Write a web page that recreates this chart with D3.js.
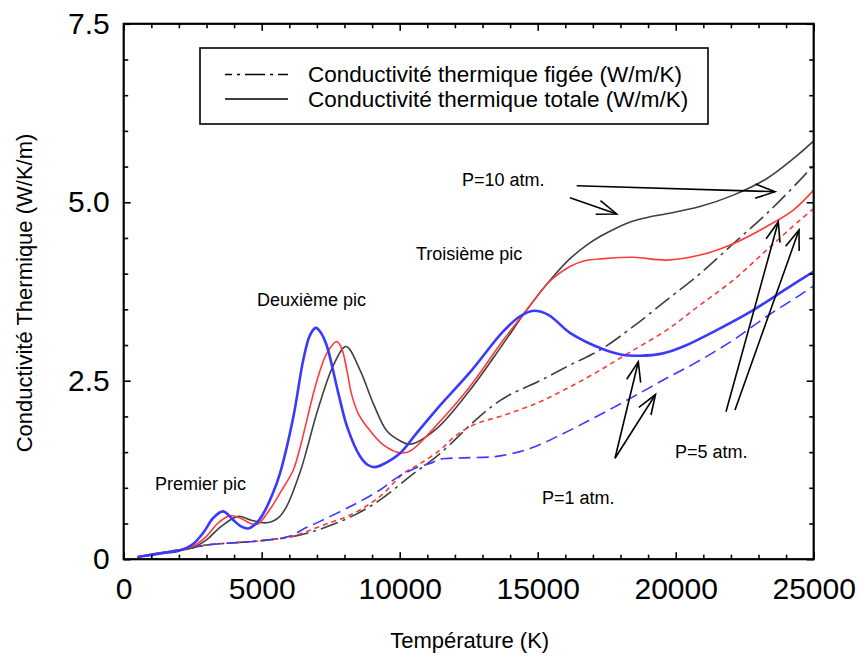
<!DOCTYPE html>
<html><head><meta charset="utf-8">
<script src="https://cdn.jsdelivr.net/npm/d3@7/dist/d3.min.js"></script>
<style>
body{margin:0;background:#fff;}
text{font-family:"Liberation Sans",Arial,Helvetica,sans-serif;}
</style></head>
<body><svg id="c" width="859" height="660"></svg>
<script>
// ---- Data (Temperature K, conductivity W/K/m) ----
const xTicks = [0, 5000, 10000, 15000, 20000, 25000];
const xTickLabels = ["0", "5000", "10000", "15000", "20000", "25000"];
const yTicks = [0, 2.5, 5.0, 7.5];
const yTickLabels = ["0", "2.5", "5.0", "7.5"];

// Total conductivity (solid)
const total1atm = [[500,0.03],[1000,0.06],[1500,0.09],[2000,0.12],[2500,0.21],[2900,0.38],[3250,0.58],[3600,0.67],[3970,0.55],[4250,0.46],[4520,0.43],[4820,0.51],[5060,0.64],[5400,0.92],[5660,1.20],[6150,2.00],[6500,2.78],[6750,3.14],[6960,3.24],[7150,3.17],[7350,3.00],[7780,2.32],[8100,1.85],[8550,1.45],[8850,1.32],[9100,1.29],[9400,1.33],[10000,1.48],[10600,1.76],[11340,2.10],[12550,2.62],[13750,3.19],[14350,3.40],[14850,3.48],[15400,3.42],[16170,3.17],[17376,2.94],[18100,2.86],[18700,2.85],[19500,2.88],[20275,2.98],[21485,3.21],[22811,3.49],[24020,3.79],[25000,4.03]];
const total5atm = [[500,0.03],[1000,0.06],[1500,0.09],[2000,0.12],[2500,0.18],[3000,0.32],[3400,0.50],[3850,0.61],[4200,0.58],[4600,0.50],[4850,0.49],[5300,0.70],[5700,0.95],[6145,1.25],[6400,1.58],[7000,2.50],[7355,2.88],[7720,3.05],[7900,2.95],[8100,2.62],[8250,2.32],[8500,2.04],[8804,1.86],[9407,1.60],[10010,1.49],[10400,1.52],[11340,1.88],[12547,2.42],[13753,3.07],[14600,3.49],[15400,3.88],[16170,4.10],[16700,4.18],[17376,4.21],[18464,4.23],[19671,4.19],[20880,4.26],[22086,4.42],[23295,4.66],[24260,4.89],[25000,5.17]];
const total10atm = [[500,0.03],[1000,0.06],[1500,0.09],[2000,0.12],[2500,0.16],[3000,0.27],[3500,0.45],[4150,0.60],[4600,0.55],[5180,0.51],[5600,0.58],[5905,0.74],[6400,1.23],[6630,1.53],[7000,2.05],[7600,2.72],[8055,2.98],[8562,2.65],[9044,2.18],[9529,1.80],[10010,1.66],[10373,1.61],[11340,1.83],[12547,2.37],[13753,3.02],[14600,3.49],[15565,3.96],[16200,4.22],[16774,4.40],[17257,4.52],[17800,4.63],[18400,4.73],[19000,4.79],[19671,4.84],[20880,4.94],[22086,5.10],[23295,5.33],[24260,5.61],[25000,5.86]];

// Frozen conductivity (dashed)
const frozen1atm = [[500,0.03],[1000,0.07],[1500,0.10],[2000,0.13],[2500,0.16],[3000,0.20],[4000,0.23],[5000,0.26],[6000,0.32],[6500,0.42],[7112,0.53],[8320,0.76],[9286,0.97],[9890,1.14],[10600,1.28],[11097,1.34],[11460,1.40],[12305,1.42],[13513,1.44],[14720,1.55],[15927,1.76],[17137,2.00],[18343,2.25],[19550,2.51],[20760,2.76],[22086,3.07],[23295,3.40],[24500,3.70],[25000,3.83]];
const frozen5atm = [[500,0.03],[1000,0.07],[1500,0.10],[2000,0.13],[2500,0.16],[3000,0.20],[4000,0.23],[5000,0.26],[6000,0.31],[6500,0.37],[7112,0.46],[8320,0.64],[9286,0.88],[10130,1.20],[10700,1.33],[11460,1.53],[12000,1.72],[12667,1.88],[13876,2.03],[15000,2.19],[16000,2.38],[17137,2.62],[18343,2.90],[19671,3.21],[20880,3.56],[22086,3.91],[23295,4.33],[24500,4.75],[25000,4.91]];
const frozen10atm = [[500,0.03],[1000,0.07],[1500,0.10],[2000,0.13],[2500,0.16],[3000,0.20],[4000,0.23],[5000,0.26],[6000,0.31],[6500,0.35],[7112,0.42],[8320,0.61],[9286,0.83],[10373,1.16],[11460,1.48],[12667,1.92],[13270,2.12],[13876,2.28],[15083,2.50],[16170,2.72],[17257,2.93],[18464,3.26],[19671,3.63],[20880,4.00],[22086,4.42],[23295,4.84],[24500,5.31],[25000,5.52]];

const legendLabels = ["Conductivité thermique figée (W/m/K)", "Conductivité thermique totale (W/m/K)"];
const annotations = [
  {t:"Premier pic", x:155, y:490},
  {t:"Deuxième pic", x:257, y:306},
  {t:"Troisième pic", x:416, y:260},
  {t:"P=10 atm.", x:462, y:186},
  {t:"P=5 atm.", x:675, y:458},
  {t:"P=1 atm.", x:542, y:504}
];
const arrows = [
  [576.7,185.7,775,191.7],
  [570,197.7,616.7,214],
  [615,458.3,638.3,361.7],
  [615,458.3,655.5,394.5],
  [726,411.7,778.3,221.7],
  [735,410,799,230]
];

// ---- Layout ----
const svg = d3.select("#c");
const L = 123.7, R = 813.7, T = 23.8, B = 559.2;
const x = d3.scaleLinear().domain([0, 25000]).range([L, R]);
const y = d3.scaleLinear().domain([0, 7.5]).range([B, T]);

const BLUE = "#3a3aff", RED = "#ff3a3a", GRAY = "#404040";
const series = [
  {d:frozen10atm, c:GRAY, w:1.6, dash:"18,5,3,5"},
  {d:frozen5atm,  c:RED,  w:1.6, dash:"5,4"},
  {d:frozen1atm,  c:BLUE, w:1.6, dash:"12,6"},
  {d:total10atm,  c:GRAY, w:1.6, dash:null},
  {d:total5atm,   c:RED,  w:1.6, dash:null},
  {d:total1atm,   c:BLUE, w:2.6, dash:null}
];
const line = d3.line().x(d=>x(d[0])).y(d=>y(d[1])).curve(d3.curveCatmullRom.alpha(0.5));

svg.append("defs").append("clipPath").attr("id","clip")
  .append("rect").attr("x",L).attr("y",T).attr("width",R-L).attr("height",B-T);
const g = svg.append("g").attr("clip-path","url(#clip)");
series.forEach(s=>{
  g.append("path").attr("d", line(s.d)).attr("fill","none")
   .attr("stroke", s.c).attr("stroke-width", s.w)
   .attr("stroke-dasharray", s.dash).attr("stroke-linejoin","round");
});

// ---- Axes ----
const minorX = d3.range(0, 25001, 1000).filter(v=>v%5000!==0);
const minorY = d3.range(0, 7.51, 0.5).filter(v=>Math.abs(v/2.5-Math.round(v/2.5))>1e-6);
function styleAxis(sel){
  sel.selectAll(".domain").remove();
  sel.selectAll("line").attr("stroke","#000").attr("stroke-width",1.6);
}
svg.append("g").attr("transform",`translate(0,${B})`)
  .call(d3.axisBottom(x).tickValues(xTicks).tickFormat((d,i)=>xTickLabels[i]).tickSize(-7).tickSizeOuter(0).tickPadding(19))
  .call(styleAxis)
  .selectAll("text").attr("font-size",30).attr("fill","#000").attr("font-family","Liberation Sans, Arial, sans-serif");
svg.append("g").attr("transform",`translate(0,${B})`)
  .call(d3.axisBottom(x).tickValues(minorX).tickFormat("").tickSize(-4.5).tickSizeOuter(0)).call(styleAxis);
svg.append("g").attr("transform",`translate(0,${T})`)
  .call(d3.axisTop(x).tickValues(xTicks).tickFormat("").tickSize(-7).tickSizeOuter(0)).call(styleAxis);
svg.append("g").attr("transform",`translate(0,${T})`)
  .call(d3.axisTop(x).tickValues(minorX).tickFormat("").tickSize(-4.5).tickSizeOuter(0)).call(styleAxis);

svg.append("g").attr("transform",`translate(${L},0)`)
  .call(d3.axisLeft(y).tickValues(yTicks).tickFormat((d,i)=>yTickLabels[i]).tickSize(-7).tickSizeOuter(0).tickPadding(14))
  .call(styleAxis)
  .selectAll("text").attr("font-size",30).attr("fill","#000").attr("font-family","Liberation Sans, Arial, sans-serif");
svg.append("g").attr("transform",`translate(${L},0)`)
  .call(d3.axisLeft(y).tickValues(minorY).tickFormat("").tickSize(-4.5).tickSizeOuter(0)).call(styleAxis);
svg.append("g").attr("transform",`translate(${R},0)`)
  .call(d3.axisRight(y).tickValues(yTicks).tickFormat("").tickSize(-7).tickSizeOuter(0)).call(styleAxis);
svg.append("g").attr("transform",`translate(${R},0)`)
  .call(d3.axisRight(y).tickValues(minorY).tickFormat("").tickSize(-4.5).tickSizeOuter(0)).call(styleAxis);

svg.append("rect").attr("x",L).attr("y",T).attr("width",R-L).attr("height",B-T)
  .attr("fill","none").attr("stroke","#000").attr("stroke-width",2.2);

// ---- Axis titles ----
svg.append("text").attr("x",(L+R)/2+1).attr("y",648).attr("text-anchor","middle")
  .attr("font-size",22).text("Température (K)");
svg.append("text").attr("transform","translate(32,293) rotate(-90)").attr("text-anchor","middle")
  .attr("font-size",22).text("Conductivité Thermique (W/K/m)");

// ---- Legend ----
const lg = svg.append("g");
lg.append("rect").attr("x",200).attr("y",48).attr("width",508).attr("height",76)
  .attr("fill","#fff").attr("stroke","#000").attr("stroke-width",1.6);
lg.append("line").attr("x1",225).attr("x2",288).attr("y1",74.5).attr("y2",74.5)
  .attr("stroke","#000").attr("stroke-width",1.6).attr("stroke-dasharray","20,5,3,5").attr("stroke-dashoffset",13);
lg.append("line").attr("x1",225).attr("x2",288).attr("y1",99).attr("y2",99)
  .attr("stroke","#000").attr("stroke-width",1.6);
legendLabels.forEach((t,i)=>{
  lg.append("text").attr("x",308).attr("y",82+i*24.5).attr("font-size",22.5).text(t);
});

// ---- Annotations ----
annotations.forEach(a=>{
  svg.append("text").attr("x",a.x).attr("y",a.y).attr("font-size",18).text(a.t);
});
arrows.forEach(([x1,y1,x2,y2])=>{
  const ag = svg.append("g").attr("stroke","#000").attr("stroke-width",1.6).attr("fill","none");
  ag.append("line").attr("x1",x1).attr("y1",y1).attr("x2",x2).attr("y2",y2);
  const ang = Math.atan2(y2-y1, x2-x1), len = 21, sp = 20*Math.PI/180;
  const p1 = [x2 - len*Math.cos(ang-sp), y2 - len*Math.sin(ang-sp)];
  const p2 = [x2 - len*Math.cos(ang+sp), y2 - len*Math.sin(ang+sp)];
  ag.append("polyline").attr("points", `${p1} ${x2},${y2} ${p2}`).attr("stroke-linejoin","miter");
});
</script></body></html>
